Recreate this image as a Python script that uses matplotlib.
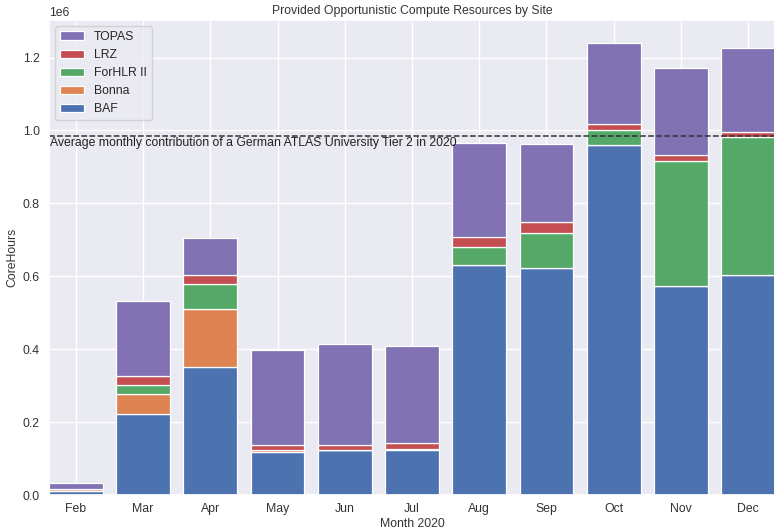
import matplotlib
matplotlib.use("Agg")
import matplotlib.pyplot as plt
import seaborn as sns
import numpy as np

sns.set_theme(style="darkgrid")
plt.rcParams['font.family'] = ['Liberation Sans', 'DejaVu Sans']
FS = 8.8
plt.rcParams['font.size'] = FS

months = ["Feb", "Mar", "Apr", "May", "Jun", "Jul", "Aug", "Sep", "Oct", "Nov", "Dec"]
baf    = [12000, 221000, 351000, 117000, 123000, 123000, 632000, 623000, 959000, 573000, 604000]
bonna  = [4000, 56000, 158000, 6000, 0, 2000, 0, 0, 0, 0, 0]
forhlr = [0, 26000, 71000, 0, 0, 0, 48000, 97000, 41000, 344000, 378000]
lrz    = [0, 23000, 23000, 13000, 13000, 18000, 29000, 28000, 19000, 15000, 13000]
topas  = [16000, 207000, 102000, 262000, 277000, 265000, 257000, 215000, 222000, 239000, 231000]
avg_tier2 = 986000

series = [("BAF", baf), ("Bonna", bonna), ("ForHLR II", forhlr), ("LRZ", lrz), ("TOPAS", topas)]
colors = ["#4C72B0", "#DD8452", "#55A868", "#C44E52", "#8172B3"]

DPI = 100
fig = plt.figure(figsize=(774/DPI, 532/DPI), dpi=DPI)
ax = fig.add_axes([49/774, 37/532, 726/774, 475/532])

x = np.arange(len(months))
bottom = np.zeros(len(months))
for (name, vals), c in zip(series, colors):
    ax.bar(x, vals, 0.8, bottom=bottom, label=name, color=c, edgecolor="white", linewidth=0.9)
    bottom += np.array(vals)

ax.set_xticks(x)
ax.set_xticklabels(months)
ax.margins(x=0)
ax.axhline(avg_tier2, color="#333333", linestyle="--", linewidth=1.1)
ax.text(-0.39, avg_tier2 - 5000, "Average monthly contribution of a German ATLAS University Tier 2 in 2020",
        va="top", ha="left", fontsize=FS, color="#222222")

ax.set_title("Provided Opportunistic Compute Resources by Site", fontsize=FS, color="#333333", pad=4)
ax.tick_params(axis="both", length=0, labelsize=FS, colors="#333333")
ax.tick_params(axis="x", pad=5.5)
ax.tick_params(axis="y", pad=6.5)
ax.set_xlabel("Month 2020", fontsize=FS, color="#333333", labelpad=2.5)
ax.set_ylabel("CoreHours", fontsize=FS, color="#333333", labelpad=3.5)
ax.yaxis.get_offset_text().set_fontsize(FS)

handles, labels = ax.get_legend_handles_labels()
ax.legend(handles[::-1], labels[::-1], loc="upper left", fontsize=FS)

fig.savefig("out.png", dpi=DPI)
